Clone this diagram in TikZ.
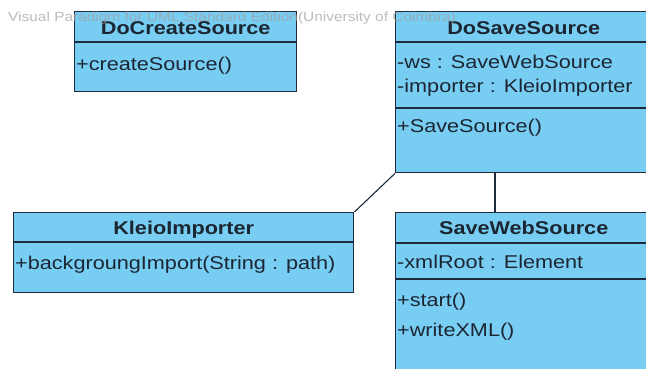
\documentclass[tikz,border=0pt]{standalone}
\usepackage{fontspec}
\setmainfont{Liberation Sans}[FakeStretch=1.17]
\definecolor{classfill}{HTML}{78CDF3}
\definecolor{classline}{HTML}{1E2B3C}
\definecolor{classtext}{HTML}{1C2633}
\definecolor{stampgray}{HTML}{A0A0A0}

\begin{document}
\begin{tikzpicture}[x=1pt,y=-1pt,
  classbox/.style={draw=classline, line width=1.4pt, fill=classfill, rectangle, inner sep=0pt, anchor=north west},
  title/.style={font=\fontsize{18.5}{20}\selectfont\bfseries, text=classtext, inner sep=0pt},
  member/.style={font=\fontsize{18.5}{20}\selectfont, text=classtext, anchor=west, inner sep=0pt},
  sep/.style={draw=classline, line width=1.2pt},
  link/.style={draw=classline, line width=1.1pt}]

\fill[white] (0,0) rectangle (646,369);
\useasboundingbox (0,0) rectangle (646,369);

% class boxes
\node[classbox, minimum width=222pt, minimum height=80pt] (dcs) at (74,11) {};
\node[classbox, minimum width=256pt, minimum height=161pt] (dss) at (395,11) {};
\node[classbox, minimum width=340pt, minimum height=80pt] (ki) at (13,212) {};
\node[classbox, minimum width=256pt, minimum height=175pt] (sws) at (395,212) {};

% compartment separators
\draw[sep] ([yshift=-31pt]dcs.north west) -- ([yshift=-31pt]dcs.north east);
\draw[sep] ([yshift=-31pt]dss.north west) -- ([yshift=-31pt]dss.north east);
\draw[sep] ([yshift=-97pt]dss.north west) -- ([yshift=-97pt]dss.north east);
\draw[sep] ([yshift=-30pt]ki.north west) -- ([yshift=-30pt]ki.north east);
\draw[sep] ([yshift=-31pt]sws.north west) -- ([yshift=-31pt]sws.north east);
\draw[sep] ([yshift=-67pt]sws.north west) -- ([yshift=-67pt]sws.north east);

% associations
\draw[link] (dss.south west) -- (ki.north east);
\draw[link] ([xshift=100pt]dss.south west) -- ([xshift=100pt]sws.north west);

% DoCreateSource
\node[title] (dcst) at ([yshift=-17pt]dcs.north) {DoCreateSource};
\node[member] (dcs1) at ([xshift=2pt,yshift=-55pt]dcs.north west) {+createSource()};

% DoSaveSource
\node[title] (dsst) at ([yshift=-17pt]dss.north) {DoSaveSource};
\node[member] (dss1) at ([xshift=2pt,yshift=-51pt]dss.north west) {-ws : SaveWebSource};
\node[member] (dss2) at ([xshift=2pt,yshift=-77pt]dss.north west) {-importer : KleioImporter};
\node[member] (dss3) at ([xshift=2pt,yshift=-117pt]dss.north west) {+SaveSource()};

% KleioImporter
\node[title] (kit) at ([yshift=-18pt]ki.north) {KleioImporter};
\node[member] (ki1) at ([xshift=2pt,yshift=-53pt]ki.north west) {+backgroungImport(String : path)};

% SaveWebSource
\node[title] (swst) at ([yshift=-16pt]sws.north) {SaveWebSource};
\node[member] (sws1) at ([xshift=2pt,yshift=-50pt]sws.north west) {-xmlRoot : Element};
\node[member] (sws2) at ([xshift=2pt,yshift=-90pt]sws.north west) {+start()};
\node[member] (sws3) at ([xshift=2pt,yshift=-120pt]sws.north west) {+writeXML()};

% edition stamp
\node[anchor=west, font=\fontsize{13.2}{15}\selectfont, text=stampgray, text opacity=0.7, inner sep=0pt] (stamp) at (8,18.5) {Visual Paradigm for UML Standard Edition(University of Coimbra)};
\end{tikzpicture}
\end{document}
